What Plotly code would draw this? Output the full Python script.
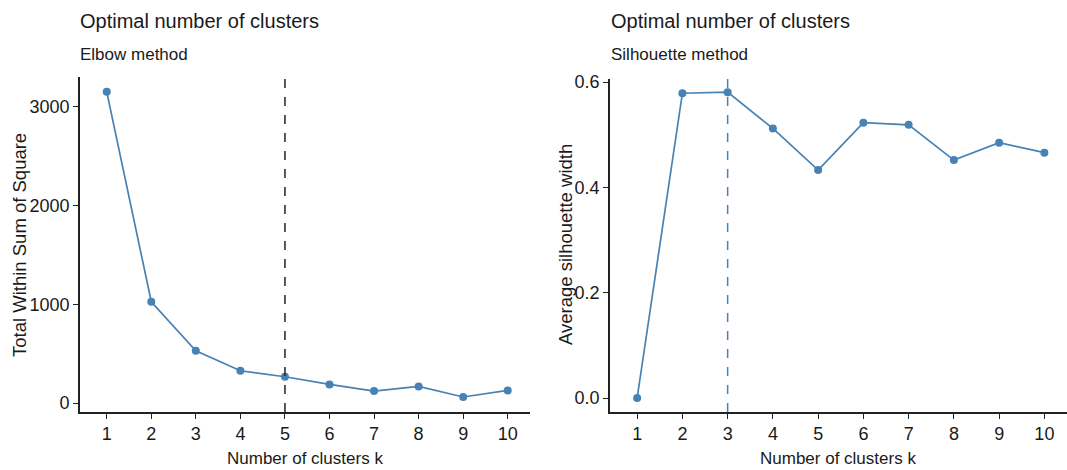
import plotly.graph_objects as go

k_values = [1, 2, 3, 4, 5, 6, 7, 8, 9, 10]
wss_values = [3153, 1026, 530, 327, 266, 188, 121, 168, 61, 128]
sil_values = [0.0, 0.579, 0.581, 0.512, 0.433, 0.523, 0.519, 0.452, 0.485, 0.466]
elbow_k = 5
sil_k = 3
left_yticks = [0, 1000, 2000, 3000]
right_yticks = [0.0, 0.2, 0.4, 0.6]
right_yticklabels = ["0.0", "0.2", "0.4", "0.6"]

W, H = 1067, 470
BLUE = "#4682B4"
FONT = "Liberation Sans, Arial, sans-serif"
TXT = "#1a1a1a"

def px(x):
    return x / W

def py(y):
    return 1 - y / H

fig = go.Figure()
fig.add_trace(go.Scatter(x=k_values, y=wss_values, mode="lines+markers",
                         line=dict(color=BLUE, width=1.7),
                         marker=dict(color=BLUE, size=8),
                         xaxis="x", yaxis="y", showlegend=False))
fig.add_trace(go.Scatter(x=k_values, y=sil_values, mode="lines+markers",
                         line=dict(color=BLUE, width=1.7),
                         marker=dict(color=BLUE, size=8),
                         xaxis="x2", yaxis="y2", showlegend=False))

axis_common = dict(showline=True, linecolor="#222", linewidth=1.7,
                   ticks="outside", ticklen=5, tickwidth=1.3, tickcolor="#222",
                   showgrid=False, zeroline=False, automargin=False,
                   tickfont=dict(family=FONT, size=18, color=TXT))

fig.update_layout(
    width=W, height=H,
    margin=dict(l=0, r=0, t=0, b=0),
    paper_bgcolor="white", plot_bgcolor="white",
    xaxis=dict(domain=[px(80), px(530)], range=[0.4, 10.5], anchor="y",
               tickmode="array", tickvals=k_values, ticktext=[str(k) for k in k_values],
               **axis_common),
    yaxis=dict(domain=[py(412), py(77)], range=[-91, 3303], anchor="x",
               tickmode="array", tickvals=left_yticks,
               ticktext=[str(v) for v in left_yticks], **axis_common),
    xaxis2=dict(domain=[px(610), 1.0], range=[0.4, 10.5], anchor="y2",
                tickmode="array", tickvals=k_values, ticktext=[str(k) for k in k_values],
                **axis_common),
    yaxis2=dict(domain=[py(412), py(79)], range=[-0.0266, 0.606], anchor="x2",
                tickmode="array", tickvals=right_yticks, ticktext=right_yticklabels,
                **axis_common),
)

fig.add_shape(type="line", xref="x", yref="y domain", x0=elbow_k, x1=elbow_k,
              y0=0, y1=1, line=dict(color="#222", width=1.5, dash="dash"))
fig.add_shape(type="line", xref="x2", yref="y2 domain", x0=sil_k, x1=sil_k,
              y0=0, y1=1, line=dict(color=BLUE, width=1.5, dash="dash"))

def ann(text, x, y, size, xanchor="left", angle=0):
    fig.add_annotation(text=text, x=px(x), y=py(y), xref="paper", yref="paper",
                       xanchor=xanchor, yanchor="middle", showarrow=False,
                       textangle=angle, font=dict(family=FONT, size=size, color=TXT))

ann("Optimal number of clusters", 78, 21, 20)
ann("Elbow method", 78, 54, 17)
ann("Optimal number of clusters", 609, 21, 20)
ann("Silhouette method", 609, 54, 17)
ann("Number of clusters k", 305, 458, 17, xanchor="center")
ann("Number of clusters k", 838, 458, 17, xanchor="center")
ann("Total Within Sum of Square", 19, 245, 18.5, xanchor="center", angle=-90)
ann("Average silhouette width", 565, 245, 18.5, xanchor="center", angle=-90)

fig.write_html("out.html")
